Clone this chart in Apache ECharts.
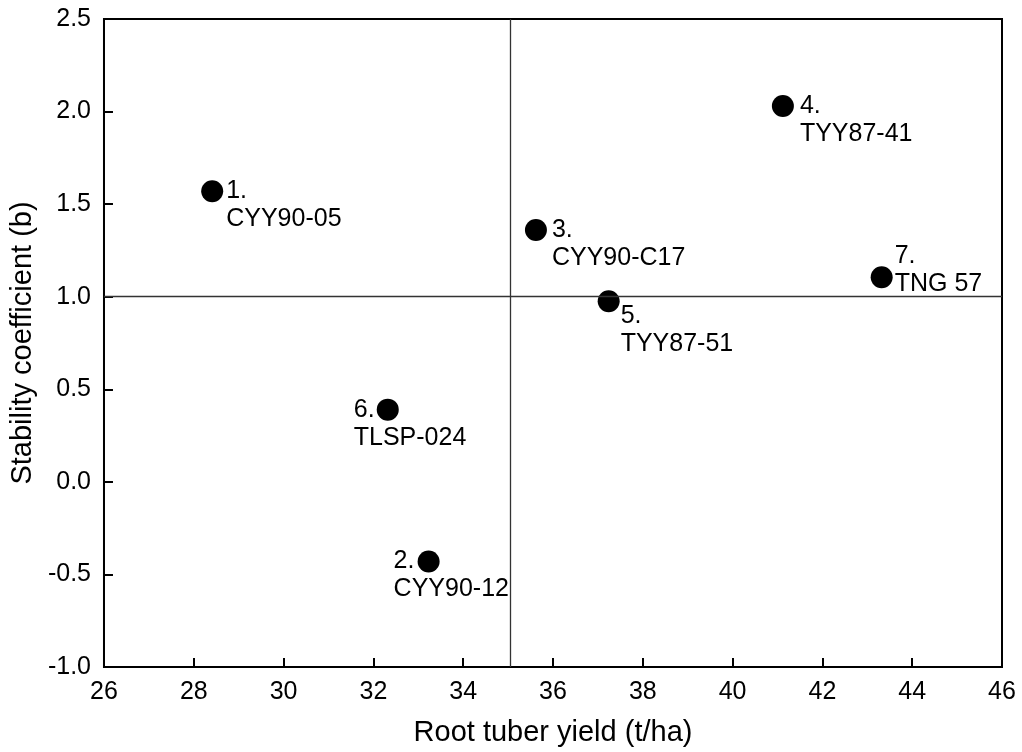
<!DOCTYPE html>
<html>
<head>
<meta charset="utf-8">
<script src="https://cdn.jsdelivr.net/npm/echarts@6/dist/echarts.min.js"></script>
<style>html,body{margin:0;padding:0;background:#fff;}#c{width:1022px;height:752px;}</style>
</head>
<body>
<div id="c"></div>
<script>
// Data
const genotypes = ['CYY90-05', 'CYY90-12', 'CYY90-C17', 'TYY87-41', 'TYY87-51', 'TLSP-024', 'TNG 57'];
const yieldValues = [28.41, 33.23, 35.62, 41.12, 37.24, 32.32, 43.32];
const stabilityValues = [1.57, -0.43, 1.36, 2.03, 0.975, 0.39, 1.105];
const refYield = 35.05;
const refStability = 1.0;
const xTicks = [26, 28, 30, 32, 34, 36, 38, 40, 42, 44, 46];
const yTicks = [-1.0, -0.5, 0.0, 0.5, 1.0, 1.5, 2.0, 2.5];

// Layout (label offsets relative to point centre)
const labelOffsets = [[14, -14], [-35, -14], [16, -14], [17, -14], [12, 1], [-34, -14], [13, -35]];

const FONT = "'Liberation Sans', Arial, Helvetica, sans-serif";

const points = genotypes.map((g, i) => ({
  value: [yieldValues[i], stabilityValues[i]],
  name: g,
  label: { offset: labelOffsets[i] }
}));

const chart = echarts.init(document.getElementById('c'), null, { renderer: 'canvas' });
chart.setOption({
  animation: false,
  backgroundColor: '#fff',
  grid: { left: 100, right: 20, top: 19, bottom: 84, show: true, borderColor: '#000', borderWidth: 2, backgroundColor: 'transparent' },
  xAxis: {
    type: 'value', min: xTicks[0], max: xTicks[xTicks.length - 1], interval: 2,
    name: 'Root tuber yield (t/ha)', nameLocation: 'middle', nameGap: 51,
    nameTextStyle: { fontFamily: FONT, fontSize: 29, color: '#000' },
    axisLine: { show: true, onZero: false, lineStyle: { color: '#000', width: 2 } },
    axisTick: { show: true, inside: true, length: 9, lineStyle: { color: '#000', width: 2 } },
    axisLabel: { fontFamily: FONT, fontSize: 25, color: '#000', margin: 13, formatter: v => String(v) },
    splitLine: { show: false }
  },
  yAxis: {
    type: 'value', min: yTicks[0], max: yTicks[yTicks.length - 1], interval: 0.5,
    name: 'Stability coefficient (b)', nameLocation: 'middle', nameGap: 64,
    nameTextStyle: { fontFamily: FONT, fontSize: 29, color: '#000' },
    axisLine: { show: true, onZero: false, lineStyle: { color: '#000', width: 2 } },
    axisTick: { show: true, inside: true, length: 9, lineStyle: { color: '#000', width: 2 } },
    axisLabel: { fontFamily: FONT, fontSize: 25, color: '#000', margin: 13, formatter: v => v.toFixed(1) },
    splitLine: { show: false }
  },
  series: [{
    type: 'scatter',
    symbol: 'circle',
    symbolSize: 22,
    itemStyle: { color: '#000', opacity: 1 },
    data: points,
    label: {
      show: true,
      position: ['50%', '50%'],
      align: 'left',
      verticalAlign: 'top',
      fontFamily: FONT,
      fontSize: 25,
      lineHeight: 28,
      color: '#000',
      opacity: 1,
      formatter: p => (p.dataIndex + 1) + '.\n' + p.name
    },
    markLine: {
      silent: true,
      symbol: 'none',
      label: { show: false },
      lineStyle: { color: '#333', width: 1.3, type: 'solid', opacity: 1 },
      data: [{ xAxis: refYield }, { yAxis: refStability }]
    },
    z: 3
  }]
});
</script>
</body>
</html>
